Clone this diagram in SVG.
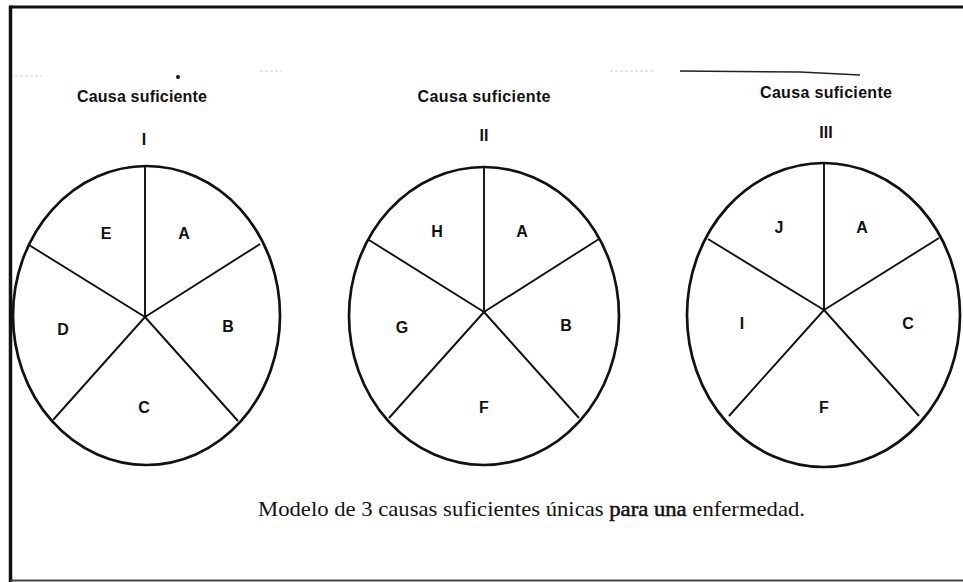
<svg xmlns="http://www.w3.org/2000/svg" width="963" height="582" viewBox="0 0 963 582">
<style>
.pie{fill:none;stroke:#111;stroke-width:2.7}
.sp{stroke:#111;stroke-width:1.9;fill:none}
.lb{font-family:"Liberation Sans",Arial,sans-serif;font-size:16px;font-weight:bold;fill:#111;text-anchor:middle}
.tt{font-family:"Liberation Sans",Arial,sans-serif;font-size:16px;font-weight:bold;fill:#111;text-anchor:middle}
.cap{font-family:"Liberation Serif","Times New Roman",serif;font-size:21px;fill:#111}
.art{stroke:#ccc;fill:none;stroke-dasharray:3 2}
</style>
<rect x="0" y="0" width="963" height="582" fill="#fff"/>
<g id="border" fill="none" stroke="#111">
<line x1="10.5" y1="7" x2="963" y2="7" stroke-width="3"/>
<line x1="10.5" y1="5.5" x2="10.5" y2="582" stroke-width="3.5"/>
<line x1="10.5" y1="580.5" x2="963" y2="580.5" stroke-width="2" stroke="#444"/>
</g>
<g id="artifacts">
<line class="art" x1="15" y1="76" x2="42" y2="76" stroke-width="1"/>
<line class="art" x1="260" y1="71" x2="282" y2="71" stroke-width="1"/>
<line class="art" x1="610" y1="71" x2="655" y2="71" stroke-width="1"/>
<path d="M680 71 L800 72 L860 75" stroke="#222" stroke-width="1.6" fill="none"/>
<circle cx="178" cy="77" r="2" fill="#111"/>
</g>
<g id="pie1">
<text class="tt" x="142" y="102" textLength="130">Causa suficiente</text>
<text class="tt" x="144" y="145">I</text>
<ellipse class="pie" cx="146.5" cy="315.5" rx="133.5" ry="149.5"/>
<path class="sp" d="M145 317L145 166M145 317L260 244M145 317L29 245M145 317L238 421M145 317L53 420"/>
<text class="lb" x="106" y="239">E</text>
<text class="lb" x="184" y="239">A</text>
<text class="lb" x="63" y="335">D</text>
<text class="lb" x="228" y="332">B</text>
<text class="lb" x="144" y="413">C</text>
</g>
<g id="pie2">
<text class="tt" x="484" y="102" textLength="133">Causa suficiente</text>
<text class="tt" x="484" y="141">II</text>
<ellipse class="pie" cx="484" cy="316" rx="135" ry="149"/>
<path class="sp" d="M484 312L484 167M484 312L599 239M484 312L369 240M484 312L579 418M484 312L389 418"/>
<text class="lb" x="437" y="237">H</text>
<text class="lb" x="522" y="237">A</text>
<text class="lb" x="402" y="333">G</text>
<text class="lb" x="566" y="331">B</text>
<text class="lb" x="484" y="413">F</text>
</g>
<g id="pie3">
<text class="tt" x="826" y="98" textLength="132">Causa suficiente</text>
<text class="tt" x="826" y="138">III</text>
<ellipse class="pie" cx="823.5" cy="315" rx="136.5" ry="152"/>
<path class="sp" d="M824 310L824 163M824 310L939 238M824 310L708 239M824 310L919 416M824 310L729 416"/>
<text class="lb" x="779" y="233">J</text>
<text class="lb" x="862" y="233">A</text>
<text class="lb" x="742" y="329">I</text>
<text class="lb" x="908" y="329">C</text>
<text class="lb" x="824" y="413">F</text>
</g>
<g id="caption">
<text class="cap" x="258" y="516" textLength="547" lengthAdjust="spacingAndGlyphs">Modelo de 3 causas suficientes únicas <tspan stroke="#111" stroke-width="0.5">para una</tspan> enfermedad.</text>
</g>
</svg>
